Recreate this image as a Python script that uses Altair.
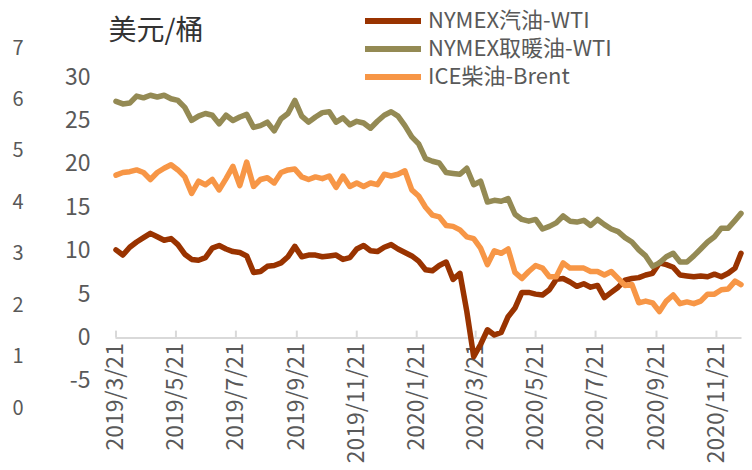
import altair as alt
import pandas as pd

series_names = ["NYMEX汽油-WTI", "NYMEX取暖油-WTI", "ICE柴油-Brent"]
series_colors = ["#993300", "#948A54", "#F79646"]

dates = list(pd.date_range("2019-03-21", periods=91, freq="7D")) + [pd.Timestamp("2020-12-16")]

gasoline = [10.1, 9.5, 10.4, 11.0, 11.5, 12.0, 11.6, 11.2, 11.4, 10.7,
            9.6, 9.0, 8.9, 9.2, 10.3, 10.6, 10.2, 9.9, 9.8, 9.4,
            7.5, 7.6, 8.2, 8.3, 8.6, 9.3, 10.5, 9.3, 9.5, 9.5,
            9.3, 9.4, 9.5, 9.0, 9.2, 10.2, 10.6, 10.0, 9.9, 10.4,
            10.7, 10.2, 9.8, 9.4, 8.8, 7.8, 7.7, 8.3, 8.7, 6.7,
            7.4, 3.0, -2.2, -0.8, 0.9, 0.3, 0.6, 2.4, 3.4, 5.2,
            5.2, 5.0, 4.9, 5.5, 6.7, 6.8, 6.4, 5.9, 6.2, 5.8,
            6.0, 4.6, 5.2, 5.8, 6.6, 6.8, 6.9, 7.2, 7.4, 8.6,
            8.4, 8.1, 7.2, 7.1, 7.0, 7.1, 7.0, 7.3, 7.0, 7.4,
            8.0, 9.7]

heating = [27.2, 26.9, 27.0, 27.8, 27.6, 27.9, 27.7, 27.9, 27.5, 27.3,
           26.5, 25.0, 25.5, 25.8, 25.6, 24.6, 25.6, 25.0, 25.4, 25.7,
           24.2, 24.4, 24.8, 23.8, 25.2, 25.8, 27.3, 25.5, 24.8, 25.4,
           25.9, 26.0, 24.8, 25.3, 24.5, 24.9, 24.7, 24.1, 24.9, 25.6,
           26.0, 25.5, 24.4, 23.1, 22.3, 20.6, 20.3, 20.1, 19.0, 18.9,
           18.8, 19.5, 17.6, 18.0, 15.6, 15.8, 15.7, 16.0, 14.2, 13.6,
           13.4, 13.6, 12.5, 12.8, 13.2, 14.0, 13.4, 13.3, 13.5, 12.9,
           13.6, 13.0, 12.5, 12.2, 11.5, 11.0, 10.1, 9.4, 8.2, 8.6,
           9.3, 9.7, 8.7, 8.7, 9.4, 10.2, 11.0, 11.6, 12.6, 12.6,
           13.5, 14.3]

diesel = [18.7, 19.0, 19.1, 19.3, 19.0, 18.2, 19.0, 19.5, 19.9, 19.3,
          18.5, 16.6, 18.0, 17.6, 18.2, 17.0, 18.3, 19.7, 17.5, 20.2,
          17.4, 18.2, 18.4, 17.8, 19.0, 19.3, 19.4, 18.5, 18.2, 18.5,
          18.3, 18.6, 17.3, 18.6, 17.4, 17.8, 17.4, 17.8, 17.6, 18.8,
          18.6, 18.8, 19.2, 17.0, 16.3, 15.0, 14.1, 13.9, 12.9, 12.8,
          12.4, 11.6, 11.4, 10.3, 8.4, 10.0, 9.7, 10.2, 7.5, 6.8,
          7.6, 8.3, 8.0, 7.0, 7.0, 8.6, 8.0, 8.0, 8.0, 7.6,
          7.6, 7.2, 7.6, 6.8, 6.0, 6.1, 4.0, 4.2, 4.0, 3.0,
          4.2, 4.9, 3.9, 4.1, 3.9, 4.2, 5.0, 5.0, 5.5, 5.6,
          6.5, 6.1]

tick_dates = ["2019-03-21", "2019-05-21", "2019-07-21", "2019-09-21", "2019-11-21",
              "2020-01-21", "2020-03-21", "2020-05-21", "2020-07-21", "2020-09-21",
              "2020-11-21"]
left_ticks = [-5, 0, 5, 10, 15, 20, 25, 30]
outer_ticks = [0, 1, 2, 3, 4, 5, 6, 7]

rows = []
for name, vals in zip(series_names, [gasoline, heating, diesel]):
    for d, v in zip(dates, vals):
        rows.append({"date": d, "value": v, "series": name})
df = pd.DataFrame(rows)


def dt(s):
    y, m, d = s.split("-")
    return alt.DateTime(year=int(y), month=int(m), date=int(d))


FONT = "Noto Sans CJK SC"
LABEL = "#595959"

x_scale = alt.Scale(domain=[dt("2019-03-20"), dt("2020-12-16")])
y_scale = alt.Scale(domain=[-8.11, 33.34], nice=False, zero=False)

lines = alt.Chart(df).mark_line(strokeWidth=5.5, strokeJoin="round", strokeCap="round").encode(
    x=alt.X("date:T", scale=x_scale,
            axis=alt.Axis(values=[dt(t) for t in tick_dates], format="%Y/%-m/%-d",
                          labelAngle=-90, labelFontSize=23, labelFont=FONT, labelColor=LABEL,
                          labelPadding=5, ticks=False, grid=False, domainColor="#d9d9d9",
                          domainWidth=2, offset=-70.4, title=None, labelOverlap=False)),
    y=alt.Y("value:Q", scale=y_scale,
            axis=alt.Axis(orient="left", values=left_ticks, labelExpr="datum.value",
                          labelFontSize=23, labelFont=FONT,
                          labelColor=LABEL, labelPadding=25, ticks=False, domain=False,
                          grid=False, title="美元/桶", titleAngle=0, titleAlign="left",
                          titleBaseline="middle", titleX=-7, titleY=-17, titleFont=FONT,
                          titleFontSize=28, titleFontWeight="normal", titleColor="#333333")),
    color=alt.Color("series:N", scale=alt.Scale(domain=series_names, range=series_colors),
                    legend=alt.Legend(orient="none", legendX=247, legendY=-41, title=None,
                                      symbolType="stroke", symbolSize=3136, symbolStrokeWidth=6,
                                      labelFontSize=22, labelFont=FONT, labelColor=LABEL,
                                      labelLimit=0, clipHeight=28, rowPadding=0,
                                      labelOffset=4, padding=0)),
)

tick_df = pd.DataFrame({"date": pd.to_datetime(tick_dates), "y0": 0.0, "y1": 0.8})
ticks = alt.Chart(tick_df).mark_rule(color="#d9d9d9", strokeWidth=2).encode(
    x=alt.X("date:T", scale=x_scale),
    y=alt.Y("y0:Q", scale=y_scale),
    y2="y1:Q",
)

inner = alt.layer(lines, ticks)

outer_df = pd.DataFrame({"v": outer_ticks})
outer = alt.Chart(outer_df).mark_point(opacity=0).encode(
    y=alt.Y("v:Q", scale=alt.Scale(domain=[0, 7], nice=False),
            axis=alt.Axis(orient="left", values=outer_ticks, labelFontSize=20, labelFont=FONT,
                          labelColor=LABEL, labelPadding=92, ticks=False, domain=False,
                          grid=False, title=None, labelAlign="right")),
)

chart = alt.layer(inner, outer).resolve_scale(y="independent").properties(
    width=626, height=360,
    autosize=alt.AutoSizeParams(type="none"),
    padding={"left": 107, "top": 40, "right": 3, "bottom": 56},
).configure_view(stroke=None)

chart.save("out.html", embed_options={"renderer": "svg", "actions": False})
